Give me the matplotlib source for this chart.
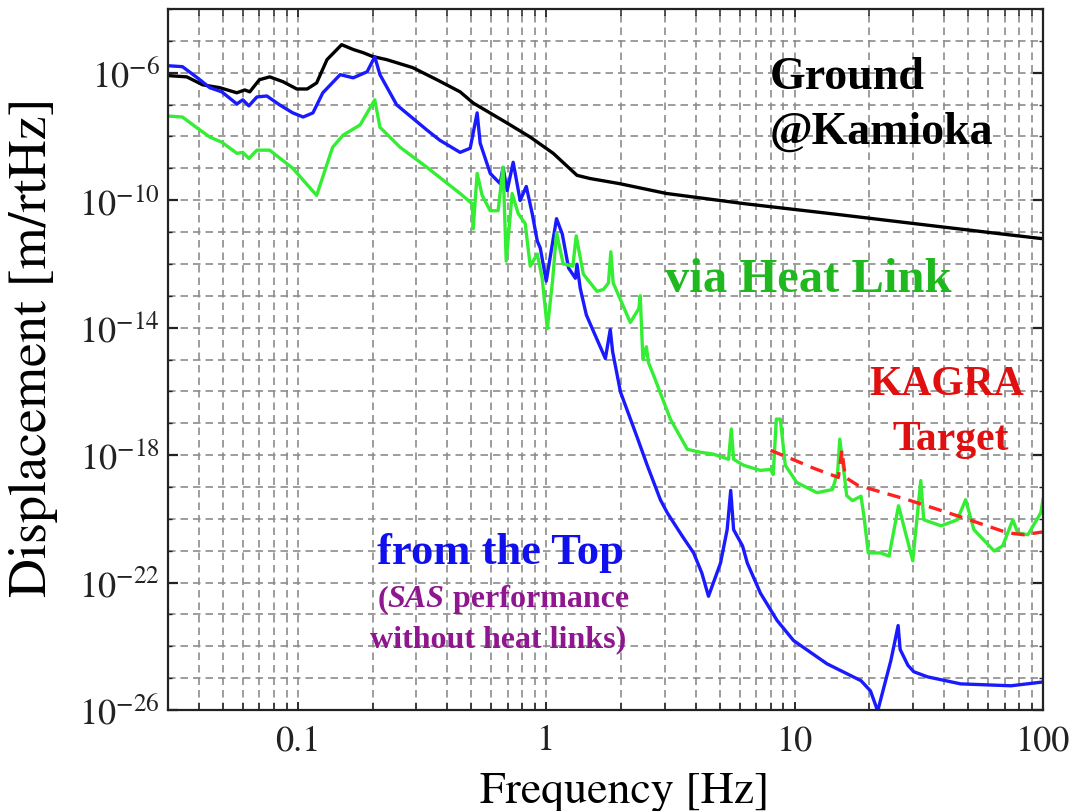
import matplotlib
matplotlib.use('Agg')
import matplotlib.pyplot as plt
import numpy as np
from matplotlib.ticker import FixedLocator, LogLocator, LogFormatterMathtext, NullFormatter

plt.rcParams['mathtext.fontset'] = 'stix'
plt.rcParams['font.family'] = ['STIXGeneral', 'DejaVu Serif']

# ---- data (frequency in Hz, log10 of displacement in m/rtHz)
ground_f = [0.03, 0.0357, 0.0414, 0.0485, 0.0568, 0.0611, 0.064, 0.07, 0.077, 0.087,
            0.099, 0.109, 0.119, 0.131, 0.15, 0.167, 0.183, 0.2, 0.228, 0.29,
            0.363, 0.45, 0.508, 0.696, 0.862, 1.067, 1.33, 1.5, 1.97, 3.05,
            6.28, 13.9, 30.7, 68.2, 100]
ground_log = [-6.09, -6.13, -6.38, -6.47, -6.63, -6.54, -6.60, -6.22, -6.13, -6.28,
              -6.51, -6.51, -6.32, -5.59, -5.12, -5.27, -5.37, -5.49, -5.59, -5.84,
              -6.22, -6.60, -6.95, -7.58, -8.02, -8.53, -9.22, -9.32, -9.48, -9.79,
              -10.11, -10.42, -10.74, -11.06, -11.21]

top_f = [0.03, 0.0343, 0.0394, 0.0442, 0.0494, 0.0568, 0.06, 0.0635, 0.0684, 0.075,
         0.0845, 0.0954, 0.105, 0.115, 0.126, 0.148, 0.167, 0.19, 0.204, 0.214,
         0.25, 0.331, 0.373, 0.45, 0.494, 0.527, 0.542, 0.595, 0.652, 0.67,
         0.696, 0.736, 0.785, 0.831, 0.878, 0.92, 0.946, 1.0, 1.1, 1.16,
         1.23, 1.31, 1.33, 1.37, 1.45, 1.55, 1.73, 1.81, 1.85, 1.99,
         2.33, 2.55, 2.88, 3.07, 3.52, 3.92, 4.23, 4.5, 5.03, 5.35,
         5.53, 5.68, 6.17, 6.45, 7.28, 8.5, 9.9, 13.5, 18.5, 20.2,
         21.6, 24.4, 25.4, 26.1, 26.6, 28.6, 30.2, 34.3, 46.6, 74.3,
         100]
top_log = [-5.78, -5.81, -6.16, -6.47, -6.60, -6.98, -6.85, -7.04, -6.76, -6.73,
           -7.01, -7.26, -7.39, -7.26, -6.63, -6.06, -6.16, -5.97, -5.50, -6.06,
           -7.01, -7.80, -8.12, -8.50, -8.37, -7.26, -8.21, -9.16, -9.48, -8.97,
           -9.70, -8.81, -10.01, -9.57, -10.42, -11.28, -11.50, -12.54, -10.58, -11.06,
           -12.13, -12.45, -12.01, -12.76, -13.60, -14.12, -14.97, -14.06, -14.75, -16.02,
           -17.47, -18.32, -19.40, -19.81, -20.53, -21.07, -21.70, -22.43, -21.39, -20.34,
           -19.11, -20.34, -20.85, -21.39, -22.33, -23.19, -23.82, -24.55, -25.08, -25.40,
           -26.03, -24.45, -23.80, -23.35, -24.10, -24.60, -24.80, -24.96, -25.18, -25.24,
           -25.12]

heatlink_f = [0.03, 0.0343, 0.0394, 0.0442, 0.0494, 0.0568, 0.06, 0.0635, 0.0684, 0.077,
              0.0954, 0.119, 0.138, 0.152, 0.178, 0.204, 0.214, 0.258, 0.331, 0.373,
              0.45, 0.503, 0.508, 0.527, 0.552, 0.595, 0.64, 0.67, 0.69, 0.729,
              0.771, 0.823, 0.862, 0.92, 0.963, 1.01, 1.06, 1.1, 1.17, 1.28,
              1.32, 1.41, 1.6, 1.70, 1.78, 1.82, 1.86, 1.9, 2.18, 2.36,
              2.39, 2.45, 2.53, 2.58, 2.70, 3.16, 3.70, 4.17, 4.71, 5.42,
              5.56, 5.68, 6.23, 7.28, 8.0, 8.2, 8.44, 8.76, 9.17, 10.2,
              12.3, 14.2, 14.9, 15.2, 15.8, 16.2, 17.1, 18.5, 19.0, 19.8,
              22.2, 24.0, 26.2, 29.9, 32.2, 33.1, 38.9, 45.2, 48.8, 52.7,
              63.6, 68.8, 75.6, 79.1, 86.9, 98, 100]
heatlink_log = [-7.36, -7.39, -7.74, -8.02, -8.18, -8.53, -8.50, -8.69, -8.43, -8.43,
                -9.00, -9.85, -8.34, -7.96, -7.64, -6.85, -7.71, -8.34, -8.97, -9.29,
                -9.79, -10.11, -10.90, -9.16, -9.85, -10.33, -10.33, -8.97, -11.91, -9.79,
                -10.42, -10.74, -12.07, -11.69, -12.45, -14.03, -12.54, -11.02, -12.00, -12.07,
                -11.12, -12.32, -12.86, -12.80, -12.60, -11.62, -12.60, -12.76, -13.84, -13.40,
                -13.00, -15.00, -14.60, -15.10, -15.48, -16.87, -17.82, -17.91, -17.97, -18.13,
                -17.18, -18.13, -18.32, -18.48, -18.45, -18.61, -16.87, -16.87, -18.32, -18.86,
                -19.18, -19.08, -18.54, -17.50, -18.54, -19.27, -19.43, -19.29, -19.90, -21.07,
                -21.07, -21.17, -19.59, -21.32, -18.80, -20.03, -20.22, -20.03, -19.40, -20.34,
                -21.01, -20.85, -20.03, -20.44, -20.50, -19.81, -19.40]

target_f = [8.0, 10, 12, 15.0, 15.5, 16.0, 18, 28.5, 45, 72, 84, 100]
target_log = [-17.85, -18.16, -18.42, -18.70, -17.85, -18.70, -18.95, -19.40, -19.90, -20.44, -20.50, -20.41]

x_ticks = [0.1, 1, 10, 100]
x_tick_labels = ['0.1', '1', '10', '100']
y_ticks = [1e-26, 1e-22, 1e-18, 1e-14, 1e-10, 1e-6]

W, H = 1074, 812
fig = plt.figure(figsize=(W / 100, H / 100), dpi=100)
ax = fig.add_axes([168 / W, 1 - 711 / H, (1043 - 168) / W, (711 - 10) / H])

ax.plot(ground_f, 10 ** np.array(ground_log), color='black', lw=2.4)
ax.plot(top_f, 10 ** np.array(top_log), color='#1a1aff', lw=2.4)
ax.plot(heatlink_f, 10 ** np.array(heatlink_log), color='#33ee33', lw=2.4)
ax.plot(target_f, 10 ** np.array(target_log), color='#ff2020', lw=2.4, ls=(0, (4, 2.5)))

ax.set_xscale('log')
ax.set_yscale('log')
ax.set_xlim(0.03, 100)
ax.set_ylim(1e-26, 1e-4)

ax.set_xticks(x_ticks, labels=x_tick_labels)
ax.xaxis.set_minor_locator(LogLocator(base=10, subs=np.arange(2, 10), numticks=20))
ax.xaxis.set_minor_formatter(NullFormatter())
ax.yaxis.set_major_locator(FixedLocator(y_ticks))
ax.yaxis.set_major_formatter(LogFormatterMathtext())
ax.yaxis.set_minor_locator(FixedLocator([10.0 ** e for e in range(-26, -3)]))
ax.yaxis.set_minor_formatter(NullFormatter())

ax.tick_params(which='both', direction='in', top=True, right=True, colors='#222222',
               labelsize=26)
ax.tick_params(axis='x', which='major', length=6, width=1.3, pad=10)
ax.tick_params(axis='x', which='minor', length=5, width=1.1)
ax.tick_params(axis='y', which='major', length=7, width=1.6, pad=6)
ax.tick_params(axis='y', which='minor', length=3, width=1.0)

ax.set_axisbelow(True)
ax.grid(which='both', axis='both', color='#8c8c8c', lw=1.2, ls=(0, (4.5, 3)))
for s in ax.spines.values():
    s.set_color('#222222')
    s.set_linewidth(1.6)

ax.set_xlabel('Frequency [Hz]', fontsize=33)
ax.xaxis.set_label_coords((625 - 168) / 875, (711 - 772) / 701)
ax.set_ylabel('Displacement [m/rtHz]', fontsize=39)
ax.yaxis.set_label_coords((58 - 168) / 875, (711 - 347) / 701)

bold = dict(family=['Liberation Serif', 'DejaVu Serif'], fontweight='bold')
fig.text(770 / W, 1 - 78 / H, 'Ground', fontsize=33, color='black', va='center', ha='left', **bold)
fig.text(770 / W, 1 - 133 / H, '@Kamioka', fontsize=33, color='black', va='center', ha='left', **bold)
fig.text(665 / W, 1 - 280 / H, 'via Heat Link', fontsize=35, color='#1fb81f', va='center', ha='left', **bold)
fig.text(947 / W, 1 - 385 / H, 'KAGRA', fontsize=30, color='#e01010', va='center', ha='center', **bold)
fig.text(951 / W, 1 - 440 / H, 'Target', fontsize=30, color='#e01010', va='center', ha='center', **bold)
fig.text(500 / W, 1 - 553 / H, 'from the Top', fontsize=32, color='#1010ee', va='center', ha='center', **bold)

# purple note, with "SAS" in italic
purple = '#8e168e'
fig.canvas.draw()
rend = fig.canvas.get_renderer()
pieces = [('(', 'normal'), ('SAS', 'italic'), (' performance', 'normal')]
tmp = [fig.text(0, 0, s, fontsize=23, style=st, **bold) for s, st in pieces]
widths = [t.get_window_extent(rend).width for t in tmp]
for t in tmp:
    t.remove()
x0 = 503 - sum(widths) / 2
for (s, st), w in zip(pieces, widths):
    fig.text(x0 / W, 1 - 600 / H, s, fontsize=23, style=st, color=purple,
             va='center', ha='left', **bold)
    x0 += w
fig.text(498 / W, 1 - 640 / H, 'without heat links)', fontsize=23, color=purple,
         va='center', ha='center', **bold)

fig.savefig('out.png', dpi=100)
